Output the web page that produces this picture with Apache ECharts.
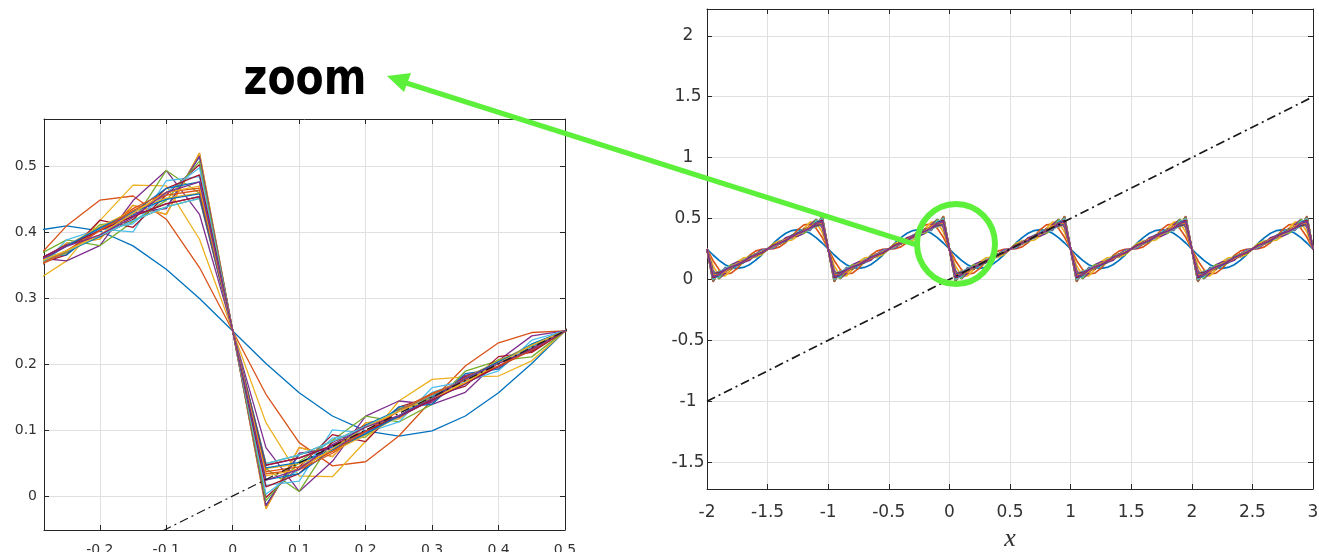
<!DOCTYPE html>
<html><head><meta charset="utf-8">
<script src="https://cdn.jsdelivr.net/npm/echarts@6.0.0/dist/echarts.min.js"></script>
<style>html,body{margin:0;padding:0;background:#fff}#c{width:1319px;height:552px}</style>
</head><body><div id="c"></div><script>
// sample positions within one period (the curves repeat every 1 unit of x)
const periodX = [0,0.05,0.1,0.15,0.2,0.25,0.3,0.35,0.4,0.45,0.5,0.55,0.6,0.65,0.7,0.75,0.8,0.85,0.9,0.95];
const periodStarts = [-2,-1,0,1,2];
const endX = 3;
// values of each curve over one period
const N1 = [0.25,0.2008,0.1565,0.1212,0.0986,0.0908,0.0986,0.1212,0.1565,0.2008,0.25,0.2992,0.3435,0.3788,0.4014,0.4092,0.4014,0.3788,0.3435,0.2992];
const N2 = [0.25,0.1540,0.0808,0.0456,0.0519,0.0908,0.1454,0.1969,0.2321,0.2476,0.25,0.2524,0.2679,0.3031,0.3546,0.4092,0.4481,0.4544,0.4192,0.3460];
const N3 = [0.25,0.1111,0.0303,0.0292,0.0830,0.1439,0.1766,0.1805,0.1817,0.2047,0.25,0.2953,0.3183,0.3195,0.3234,0.3561,0.4170,0.4708,0.4697,0.3889];
const N4 = [0.25,0.0733,0.0069,0.0526,0.1209,0.1439,0.1388,0.1571,0.2051,0.2425,0.25,0.2575,0.2949,0.3429,0.3612,0.3561,0.3791,0.4474,0.4931,0.4267];
const N5 = [0.25,0.0415,0.0069,0.0844,0.1209,0.1121,0.1388,0.1890,0.2051,0.2107,0.25,0.2893,0.2949,0.3110,0.3612,0.3879,0.3791,0.4156,0.4931,0.4585];
const N6 = [0.25,0.0162,0.0225,0.1000,0.0957,0.1121,0.1640,0.1734,0.1895,0.2359,0.25,0.2641,0.3105,0.3266,0.3360,0.3879,0.4043,0.4000,0.4775,0.4838];
const N7 = [0.25,-0.0022,0.0441,0.0930,0.0823,0.1348,0.1506,0.1664,0.2111,0.2175,0.25,0.2825,0.2889,0.3336,0.3494,0.3652,0.4177,0.4070,0.4559,0.5022];
const N8 = [0.25,-0.0139,0.0631,0.0740,0.0940,0.1348,0.1389,0.1853,0.1922,0.2292,0.25,0.2708,0.3078,0.3147,0.3611,0.3652,0.4060,0.4260,0.4369,0.5139];
const N9 = [0.25,-0.0193,0.0735,0.0597,0.1108,0.1171,0.1557,0.1710,0.2026,0.2237,0.25,0.2763,0.2974,0.3290,0.3443,0.3829,0.3892,0.4403,0.4265,0.5193];
const N10 = [0.25,-0.0193,0.0735,0.0597,0.1108,0.1171,0.1557,0.1710,0.2026,0.2237,0.25,0.2763,0.2974,0.3290,0.3443,0.3829,0.3892,0.4403,0.4265,0.5193];
const N11 = [0.25,-0.0149,0.0649,0.0714,0.0970,0.1316,0.1420,0.1827,0.1941,0.2282,0.25,0.2718,0.3059,0.3173,0.3580,0.3684,0.4030,0.4286,0.4351,0.5149];
const N12 = [0.25,-0.0071,0.0523,0.0840,0.0892,0.1316,0.1498,0.1701,0.2067,0.2204,0.25,0.2796,0.2933,0.3299,0.3502,0.3684,0.4108,0.4160,0.4477,0.5071];
const N13 = [0.25,0.0028,0.0407,0.0878,0.0964,0.1193,0.1570,0.1738,0.1950,0.2303,0.25,0.2697,0.3050,0.3262,0.3430,0.3807,0.4036,0.4122,0.4593,0.4972];
const N14 = [0.25,0.0137,0.0340,0.0811,0.1073,0.1193,0.1462,0.1805,0.2017,0.2195,0.25,0.2805,0.2983,0.3195,0.3538,0.3807,0.3927,0.4189,0.4660,0.4863];
const N15 = [0.25,0.0243,0.0340,0.0705,0.1073,0.1300,0.1462,0.1699,0.2017,0.2301,0.25,0.2699,0.2983,0.3301,0.3538,0.3700,0.3927,0.4295,0.4660,0.4757];
const N16 = [0.25,0.0337,0.0399,0.0647,0.0978,0.1300,0.1556,0.1758,0.1959,0.2207,0.25,0.2793,0.3041,0.3242,0.3444,0.3700,0.4022,0.4353,0.4601,0.4663];
const N17 = [0.25,0.0413,0.0488,0.0676,0.0923,0.1206,0.1501,0.1787,0.2048,0.2282,0.25,0.2718,0.2952,0.3213,0.3499,0.3794,0.4077,0.4324,0.4512,0.4587];
const N18 = [0.25,0.0465,0.0572,0.0760,0.0975,0.1206,0.1449,0.1702,0.1964,0.2230,0.25,0.2770,0.3036,0.3298,0.3551,0.3794,0.4025,0.4240,0.4428,0.4535];
const N19 = [0.25,0.0491,0.0621,0.0828,0.1055,0.1290,0.1529,0.1770,0.2013,0.2256,0.25,0.2744,0.2987,0.3230,0.3471,0.3710,0.3945,0.4172,0.4379,0.4509];
const N20 = [0.25,0.0491,0.0621,0.0828,0.1055,0.1290,0.1529,0.1770,0.2013,0.2256,0.25,0.2744,0.2987,0.3230,0.3471,0.3710,0.3945,0.4172,0.4379,0.4509];
const N21 = [0.25,0.0467,0.0576,0.0766,0.0982,0.1214,0.1457,0.1709,0.1968,0.2233,0.25,0.2767,0.3032,0.3291,0.3543,0.3786,0.4018,0.4234,0.4424,0.4533];
const N22 = [0.25,0.0425,0.0508,0.0698,0.0940,0.1214,0.1499,0.1778,0.2037,0.2275,0.25,0.2725,0.2963,0.3222,0.3501,0.3786,0.4060,0.4302,0.4492,0.4575];
const N23 = [0.25,0.0369,0.0442,0.0676,0.0981,0.1283,0.1540,0.1756,0.1971,0.2219,0.25,0.2781,0.3029,0.3244,0.3460,0.3717,0.4019,0.4324,0.4558,0.4631];
const N24 = [0.25,0.0306,0.0403,0.0715,0.1044,0.1283,0.1477,0.1717,0.2010,0.2282,0.25,0.2718,0.2990,0.3283,0.3523,0.3717,0.3956,0.4285,0.4597,0.4694];
const N25 = [0.25,0.0242,0.0403,0.0779,0.1044,0.1219,0.1477,0.1781,0.2010,0.2219,0.25,0.2781,0.2990,0.3219,0.3523,0.3781,0.3956,0.4221,0.4597,0.4758];
const curves = [N1,N2,N3,N4,N5,N6,N7,N8,N9,N10,N11,N12,N13,N14,N15,N16,N17,N18,N19,N20,N21,N22,N23,N24,N25];
// reference line y = x/2 (dash-dot)
const refX = [-2, 3];
const refY = [-1, 1.5];
// tick labels
const leftXTicks = [-0.2,-0.1,0,0.1,0.2,0.3,0.4,0.5];
const leftYTicks = [0,0.1,0.2,0.3,0.4,0.5];
const rightYTicks = [-1.5,-1,-0.5,0,0.5,1,1.5,2];
const rightXLabel = 'x';
const annotation = 'zoom';

const colors = ['#0072BD','#D95319','#EDB120','#7E2F8E','#77AC30','#4DBEEE','#A2142F'];

function tile(row){
  const d = [];
  periodStarts.forEach(s => periodX.forEach((px, j) => d.push([Math.round((s + px) * 100) / 100, row[j]])));
  d.push([endX, row[0]]);
  return d;
}
const refData = refX.map((x, i) => [x, refY[i]]);

const axisColor = '#262626';
const gridColor = '#e0e0e0';
function xAx(grid, min, max, pos, opts){
  const main = pos === 'bottom';
  const o = {
    type:'value', gridIndex:grid, min:min, max:max, position:pos,
    axisLine:{show:true, onZero:false, lineStyle:{color:axisColor, width:1}},
    axisTick:{show:true, inside:true, length:5, lineStyle:{color:axisColor}},
    axisLabel:{show:main, color:'#333', fontFamily:'DejaVu Sans', fontSize:opts.fs, margin:opts.margin},
    splitLine:{show:main, lineStyle:{color:gridColor, width:1}}
  };
  if (opts.ticks){ o.axisTick.customValues = opts.ticks; o.axisLabel.customValues = opts.ticks; }
  if (opts.interval){ o.interval = opts.interval; }
  if (main && opts.name){
    o.name = opts.name; o.nameLocation='middle'; o.nameGap = opts.nameGap;
    o.nameTextStyle = {fontFamily:'Liberation Serif', fontStyle:'italic', fontSize:26, color:'#333'};
  }
  return o;
}
function yAx(grid, min, max, pos, opts){
  const main = pos === 'left';
  const o = {
    type:'value', gridIndex:grid, min:min, max:max, position:pos,
    axisLine:{show:true, onZero:false, lineStyle:{color:axisColor, width:1}},
    axisTick:{show:true, inside:true, length:5, lineStyle:{color:axisColor}},
    axisLabel:{show:main, color:'#333', fontFamily:'DejaVu Sans', fontSize:opts.fs, margin:opts.margin, align:opts.align||'right'},
    splitLine:{show:main, lineStyle:{color:gridColor, width:1}}
  };
  if (opts.ticks){ o.axisTick.customValues = opts.ticks; o.axisLabel.customValues = opts.ticks; }
  return o;
}

const series = [];
[0,1].forEach(g => {
  curves.forEach((row, i) => {
    series.push({type:'line', xAxisIndex:g*2, yAxisIndex:g*2, data:tile(row), showSymbol:false, silent:true,
      lineStyle:{width: g===0 ? 1.3 : 1.7, color:colors[i % 7]}, itemStyle:{color:colors[i % 7]}, z:2});
  });
  series.push({type:'line', xAxisIndex:g*2, yAxisIndex:g*2, data:refData, showSymbol:false, silent:true,
    lineStyle:{width: g===0 ? 1.2 : 1.7, color:'#1a1a1a', type:[9,4,2,4]}, z:3});
});

const chart = echarts.init(document.getElementById('c'), null, {renderer:'canvas'});
const green = '#5cf03a';
chart.setOption({
  animation:false,
  backgroundColor:'#fff',
  grid:[
    {left:44, top:119, width:521, height:411, show:true, backgroundColor:'#fff', borderWidth:0, outerBoundsMode:'none', containLabel:false},
    {left:707, top:9, width:606, height:480, show:true, backgroundColor:'#fff', borderWidth:0, outerBoundsMode:'none', containLabel:false}
  ],
  xAxis:[
    xAx(0, -0.284, 0.5, 'bottom', {ticks:leftXTicks, fs:14, margin:13}),
    xAx(0, -0.284, 0.5, 'top', {ticks:leftXTicks}),
    xAx(1, -2, 3, 'bottom', {interval:0.5, fs:17, margin:15, name:rightXLabel, nameGap:33}),
    xAx(1, -2, 3, 'top', {interval:0.5})
  ],
  yAxis:[
    yAx(0, -0.0515, 0.571, 'left', {ticks:leftYTicks, fs:14, margin:7}),
    yAx(0, -0.0515, 0.571, 'right', {ticks:leftYTicks}),
    yAx(1, -1.72, 2.22, 'left', {ticks:rightYTicks, fs:17, margin:19, align:'center'}),
    yAx(1, -1.72, 2.22, 'right', {ticks:rightYTicks})
  ],
  series:series,
  graphic:[
    {type:'text', x:305, y:81, z:100, scaleY:1.2, originX:0, originY:0,
      style:{text:annotation, font:'bold 41px "DejaVu Sans"', fill:'#000', textAlign:'center', textVerticalAlign:'middle'}},
    {type:'line', z:100, shape:{x1:917, y1:245, x2:400, y2:81}, style:{stroke:green, lineWidth:5}},
    {type:'polygon', z:100, shape:{points:[[387,76],[411,73],[404,92]]}, style:{fill:green}},
    {type:'ellipse', z:100, shape:{cx:956, cy:244, rx:39, ry:40}, style:{stroke:green, lineWidth:6, fill:null}}
  ]
});
</script></body></html>
